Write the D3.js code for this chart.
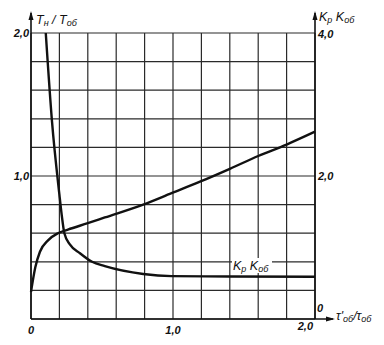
<!DOCTYPE html>
<html>
<head>
<meta charset="utf-8">
<script src="https://cdn.jsdelivr.net/npm/d3@7"></script>
<style>
  html, body { margin: 0; padding: 0; background: #fff; }
  svg text { font-family: "Liberation Sans", Arial, sans-serif; font-style: italic; fill: #111; }
</style>
</head>
<body>
<div id="chart"></div>
<script>
'use strict';

// tau'об/tauоб  ->  Tн/Tоб (left axis)
const ratioX = [0, 0.03, 0.063, 0.12, 0.19, 0.26, 0.4, 0.52, 0.79, 0.99, 1.19, 1.4, 1.6, 1.8, 2.0];
const ratioY = [0.19, 0.36, 0.47, 0.55, 0.60, 0.625, 0.67, 0.71, 0.80, 0.88, 0.96, 1.05, 1.14, 1.22, 1.31];

// tau'об/tauоб  ->  Kр Kоб (right axis)
const kX = [0.104, 0.148, 0.2, 0.216, 0.235, 0.275, 0.345, 0.43, 0.52, 0.79, 0.99, 1.4, 2.0];
const kY = [4.0, 2.76, 1.74, 1.46, 1.20, 1.04, 0.92, 0.80, 0.74, 0.63, 0.60, 0.595, 0.59];

const leftTicks = [1, 2];
const rightTicks = [2, 4];
const bottomTicks = [0, 1];

const fmt = v => v === 0 ? '0' : d3.format('.1f')(v).replace('.', ',');

const W = 384, H = 345;
const svg = d3.select('#chart').append('svg')
  .attr('width', W).attr('height', H);

const x = d3.scaleLinear().domain([0, 2]).range([31, 315]);
const yL = d3.scaleLinear().domain([0, 2]).range([319, 33]);
const yR = d3.scaleLinear().domain([0, 4]).range([319, 33]);

// grid
const grid = svg.append('g').attr('stroke', '#2a2a2a').attr('stroke-width', 1.2);
grid.selectAll('line.v').data(x.ticks(10)).join('line')
  .attr('class', 'v')
  .attr('x1', d => x(d)).attr('x2', d => x(d))
  .attr('y1', yL(2)).attr('y2', yL(0));
grid.selectAll('line.h').data(yL.ticks(10)).join('line')
  .attr('class', 'h')
  .attr('x1', x(0)).attr('x2', x(2))
  .attr('y1', d => yL(d)).attr('y2', d => yL(d));

// axes with arrows
const axes = svg.append('g').attr('stroke', '#111').attr('stroke-width', 1.6).attr('fill', 'none');
axes.append('line').attr('x1', x(0)).attr('x2', x(0)).attr('y1', yL(0)).attr('y2', 13);
axes.append('line').attr('x1', x(2)).attr('x2', x(2)).attr('y1', yL(0)).attr('y2', 13);
axes.append('line').attr('x1', x(0)).attr('x2', 333).attr('y1', yL(0)).attr('y2', yL(0));

const arrows = svg.append('g').attr('fill', '#111');
arrows.append('path').attr('d', `M${x(0)},11 l-2.5,9 l5,0 z`);
arrows.append('path').attr('d', `M${x(2)},11 l-2.5,9 l5,0 z`);
arrows.append('path').attr('d', `M335,${yL(0)} l-9,-2.5 l0,5 z`);

// curves
const line = d3.line().curve(d3.curveMonotoneX);
svg.append('path')
  .attr('d', line(ratioX.map((v, i) => [x(v), yL(ratioY[i])])))
  .attr('fill', 'none').attr('stroke', '#111').attr('stroke-width', 2.4);
svg.append('path')
  .attr('d', line(kX.map((v, i) => [x(v), yR(kY[i])])))
  .attr('fill', 'none').attr('stroke', '#111').attr('stroke-width', 2.4);

// tick labels
const tl = svg.append('g').attr('font-size', 11).attr('font-weight', 'bold');
tl.selectAll('text.l').data(leftTicks).join('text')
  .attr('class', 'l')
  .attr('x', 29).attr('y', d => yL(d) + 4)
  .attr('text-anchor', 'end').text(fmt);
tl.selectAll('text.r').data(rightTicks).join('text')
  .attr('class', 'r')
  .attr('x', 318).attr('y', d => yR(d) + (d === 4 ? 5 : 4))
  .text(fmt);
tl.append('text').attr('x', 317).attr('y', 312).text(fmt(0));
tl.selectAll('text.b').data(bottomTicks).join('text')
  .attr('class', 'b')
  .attr('x', d => x(d)).attr('y', 334)
  .attr('text-anchor', 'middle').text(fmt);
tl.append('text').attr('x', x(2) - 2).attr('y', 330)
  .attr('text-anchor', 'end').text(fmt(2));

// axis titles
const titles = svg.append('g').attr('font-size', 12.5);
const tLeft = titles.append('text').attr('x', 36).attr('y', 24);
tLeft.append('tspan').text('T');
tLeft.append('tspan').attr('font-size', 9).attr('dy', 2).text('н');
tLeft.append('tspan').attr('dy', -2).text(' / T');
tLeft.append('tspan').attr('font-size', 9).attr('dy', 2).text('об');

const tRight = titles.append('text').attr('x', 319).attr('y', 21);
tRight.append('tspan').text('K');
tRight.append('tspan').attr('font-size', 9).attr('dy', 2).text('р');
tRight.append('tspan').attr('dy', -2).text(' K');
tRight.append('tspan').attr('font-size', 9).attr('dy', 2).text('об');

const tBottom = titles.append('text').attr('x', 336).attr('y', 320);
tBottom.append('tspan').text('τ\'');
tBottom.append('tspan').attr('font-size', 9).attr('dy', 2).text('об');
tBottom.append('tspan').attr('dy', -2).text('/τ');
tBottom.append('tspan').attr('font-size', 9).attr('dy', 2).text('об');

// curve label
const lab = svg.append('g');
lab.append('rect').attr('x', 232).attr('y', 258).attr('width', 40).attr('height', 15).attr('fill', '#fff');
const tk = lab.append('text').attr('x', 233).attr('y', 270).attr('font-size', 12.5);
tk.append('tspan').text('K');
tk.append('tspan').attr('font-size', 9).attr('dy', 2).text('р');
tk.append('tspan').attr('dy', -2).text(' K');
tk.append('tspan').attr('font-size', 9).attr('dy', 2).text('об');
</script>
</body>
</html>
